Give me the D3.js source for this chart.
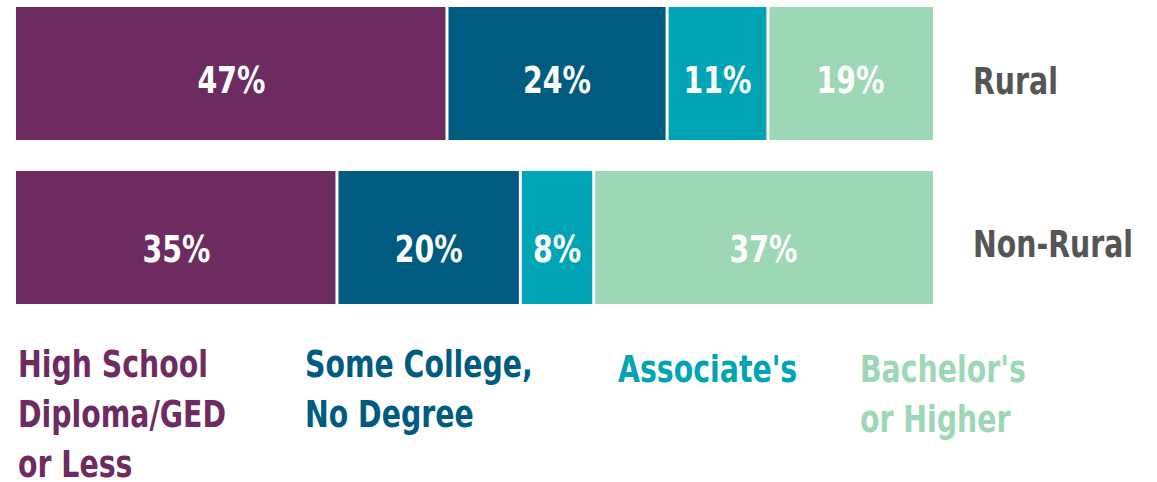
<!DOCTYPE html>
<html><head><meta charset="utf-8">
<script src="https://cdn.jsdelivr.net/npm/d3@7"></script>
<style>
html,body{margin:0;padding:0;background:#fff;}
text{font-family:"DejaVu Sans Condensed","DejaVu Sans",sans-serif;font-stretch:condensed;font-weight:bold;}
</style></head>
<body>
<svg id="chart" width="1157" height="482"></svg>
<script>
const groups = ["Rural", "Non-Rural"];
const categories = ["hs", "some", "assoc", "bach"];
const categoryLabels = [["High School","Diploma/GED","or Less"],["Some College,","No Degree"],["Associate's"],["Bachelor's","or Higher"]];
const hsValues = [47, 35];
const someCollegeValues = [24, 20];
const associateValues = [11, 8];
const bachelorValues = [19, 37];
const colors = ["#6e2b60", "#005b80", "#00a4b5", "#9dd7b5"];

const FS = 38, SX = 0.83;
const rows = groups.map((g, i) => ({group: g, hs: hsValues[i], some: someCollegeValues[i], assoc: associateValues[i], bach: bachelorValues[i]}));
const stack = d3.stack().keys(categories);
const series = stack(rows);

const svg = d3.select("#chart");
const x = d3.scaleLinear().domain([0, 100]).range([16, 933]).clamp(true);
const y = d3.scaleBand().domain(groups).range([7, 304]).paddingInner(0.189).paddingOuter(0);
const color = d3.scaleOrdinal().domain(categories).range(colors);
const valueShift = {"Rural": 19, "Non-Rural": 25};
const rowLabelShift = 20;

const layer = svg.append("g").selectAll("g").data(series).join("g").attr("fill", d => color(d.key));
layer.selectAll("rect").data(d => d.map(v => ({v, key: d.key}))).join("rect")
  .attr("x", d => x(d.v[0]) + (d.v[0] > 0 ? 1.5 : 0))
  .attr("width", d => x(d.v[1]) - x(d.v[0]) - (d.v[0] > 0 ? 1.5 : 0) - (d.v[1] < 100 ? 1.5 : 0))
  .attr("y", d => y(d.v.data.group))
  .attr("height", y.bandwidth());

const valueKeys = {hs: hsValues, some: someCollegeValues, assoc: associateValues, bach: bachelorValues};
layer.selectAll("text").data(d => d.map((v, i) => ({v, key: d.key, i}))).join("text")
  .attr("transform", d => `translate(${(x(d.v[0]) + x(d.v[1])) / 2},${y(d.v.data.group) + y.bandwidth() / 2 + valueShift[d.v.data.group]}) scale(${SX},1)`)
  .attr("text-anchor", "middle")
  .attr("fill", "#fff")
  .attr("font-size", FS)
  .text(d => valueKeys[d.key][d.i] + "%");

svg.append("g").selectAll("text").data(groups).join("text")
  .attr("transform", d => `translate(973,${y(d) + y.bandwidth() / 2 + rowLabelShift}) scale(${SX},1)`)
  .attr("fill", "#555555")
  .attr("font-size", FS)
  .text(d => d);

const legendX = [18, 305, 618, 860];
const legendY = [377, 377, 382, 382];
const lg = svg.append("g").selectAll("text").data(categories).join("text")
  .attr("transform", (d, i) => `translate(${legendX[i]},${legendY[i]}) scale(${SX},1)`)
  .attr("fill", d => color(d))
  .attr("font-size", FS);
lg.selectAll("tspan").data((d, i) => categoryLabels[i]).join("tspan")
  .attr("x", 0)
  .attr("dy", (d, j) => j === 0 ? 0 : 50)
  .text(d => d);
</script>
</body></html>
